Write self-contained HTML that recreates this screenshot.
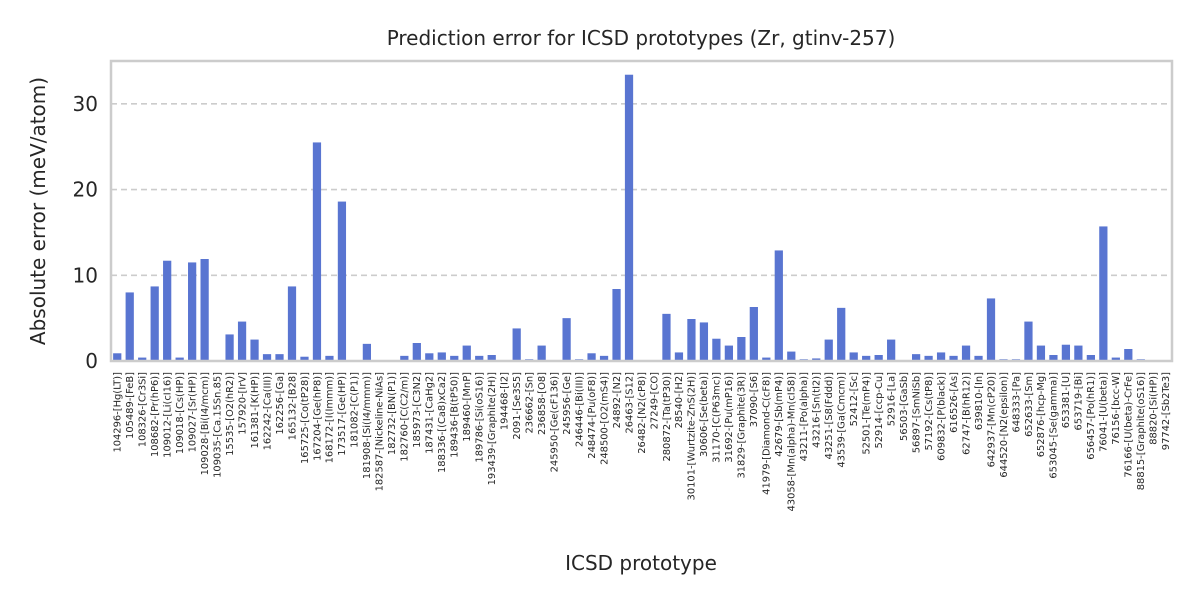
<!DOCTYPE html>
<html><head><meta charset="utf-8"><style>
body{margin:0;background:#fff;font-family:"DejaVu Sans","Liberation Sans",sans-serif;}
svg text{font-family:"DejaVu Sans","Liberation Sans",sans-serif;fill:#262626;}
</style></head><body>
<svg id="chart" width="1200" height="600" xmlns="http://www.w3.org/2000/svg">
<rect width="1200" height="600" fill="#fff"/>
<text x="641" y="45" font-size="20" text-anchor="middle">Prediction error for ICSD prototypes (Zr, gtinv-257)</text>
<text x="641" y="570" font-size="20" text-anchor="middle">ICSD prototype</text>
<text transform="translate(45,211) rotate(-90)" font-size="20" text-anchor="middle">Absolute error (meV/atom)</text>
<g id="grid"></g><g id="bars"></g><g id="yticks"></g><g id="xticks"></g>
<rect x="111" y="61" width="1061" height="300" fill="none" stroke="#cccccc" stroke-width="2.5"/>
</svg>
<script>
const categories=["104296-[Hg(LT)]","105489-[FeB]","108326-[Cr3Si]","108682-[Pr(hP6)]","109012-[Li(cI16)]","109018-[Cs(HP)]","109027-[Sr(HP)]","109028-[Bi(I4/mcm)]","109035-[Ca.15Sn.85]","15535-[O2(hR2)]","157920-[IrV]","161381-[K(HP)]","162242-[Ca(III)]","162256-[Ga]","165132-[B28]","165725-[Co(tP28)]","167204-[Ge(hP8)]","168172-[I(Immm)]","173517-[Ge(HP)]","181082-[C(P1)]","181908-[Si(I4/mmm)]","182587-[Nickeline-NiAs]","182732-[BN(P1)]","182760-[C(C2/m)]","185973-[C3N2]","187431-[CaHg2]","188336-[(Ca8)xCa2]","189436-[B(tP50)]","189460-[MnP]","189786-[Si(oS16)]","193439-[Graphite(2H)]","194468-[I2]","2091-[Se3S5]","236662-[Sn]","236858-[O8]","245950-[Ge(cF136)]","245956-[Ge]","246446-[Bi(III)]","248474-[Pu(oF8)]","248500-[O2(mS4)]","24892-[N2]","26463-[S12]","26482-[N2(cP8)]","27249-[CO]","280872-[Ta(tP30)]","28540-[H2]","30101-[Wurtzite-ZnS(2H)]","30606-[Se(beta)]","31170-[C(P63mc)]","31692-[Pu(mP16)]","31829-[Graphite(3R)]","37090-[S6]","41979-[Diamond-C(cF8)]","42679-[Sb(mP4)]","43058-[Mn(alpha)-Mn(cI58)]","43211-[Po(alpha)]","43216-[Sn(tI2)]","43251-[S8(Fddd)]","43539-[Ga(Cmcm)]","52412-[Sc]","52501-[Te(mP4)]","52914-[ccp-Cu]","52916-[La]","56503-[GaSb]","56897-[SmNiSb]","57192-[Cs(tP8)]","609832-[P(black)]","616526-[As]","62747-[B(hR12)]","639810-[In]","642937-[Mn(cP20)]","644520-[N2(epsilon)]","648333-[Pa]","652633-[Sm]","652876-[hcp-Mg]","653045-[Se(gamma)]","653381-[U]","653719-[Bi]","656457-[Po(hR1)]","76041-[U(beta)]","76156-[bcc-W]","76166-[U(beta)-CrFe]","88815-[Graphite(oS16)]","88820-[Si(HP)]","97742-[Sb2Te3]"];
const values=[0.9,8.0,0.4,8.7,11.7,0.4,11.5,11.9,0,3.1,4.6,2.5,0.8,0.8,8.7,0.5,25.5,0.6,18.6,0,2.0,0,0,0.6,2.1,0.9,1.0,0.6,1.8,0.6,0.7,0,3.8,0.2,1.8,0,5.0,0.2,0.9,0.6,8.4,33.4,0,0,5.5,1.0,4.9,4.5,2.6,1.8,2.8,6.3,0.4,12.9,1.1,0.2,0.3,2.5,6.2,1.0,0.6,0.7,2.5,0.1,0.8,0.6,1.0,0.6,1.8,0.6,7.3,0.2,0.2,4.6,1.8,0.7,1.9,1.8,0.7,15.7,0.4,1.4,0.2,0,0];
const yTicks=[0,10,20,30];
const NS="http://www.w3.org/2000/svg";
const X0=111,W=1061,Y0=361,YMAX=35;
const band=W/categories.length;
function xPos(i){return X0+band*(i+0.5);}
function yPos(v){return Y0-v/YMAX*300;}
function mk(t,a,p){const e=document.createElementNS(NS,t);for(const k in a)e.setAttribute(k,a[k]);document.getElementById(p).appendChild(e);return e;}
yTicks.forEach(t=>{
  if(t>0){const g=mk("line",{x1:X0,x2:X0+W,y1:yPos(t),y2:yPos(t),stroke:"#cccccc","stroke-width":1.6,"stroke-dasharray":"6,4"},"grid");
  
  }
  const l=mk("text",{x:X0-13,y:yPos(t)+7,"font-size":20,"text-anchor":"end"},"yticks");
  l.textContent=t;
  
  
});
const bw=band*0.66;
values.forEach((v,i)=>{
  const r=mk("rect",{x:xPos(i)-bw/2,y:yPos(v),width:bw,height:Y0-yPos(v),fill:"#5975d1"},"bars");
  
  
});
categories.forEach((c,i)=>{
  const x=xPos(i)+3.3;
  const t=mk("text",{transform:`translate(${x},372) rotate(-90)`,"font-size":9.9,"text-anchor":"end"},"xticks");
  t.textContent=c;
  
  
});
</script>
</body></html>
